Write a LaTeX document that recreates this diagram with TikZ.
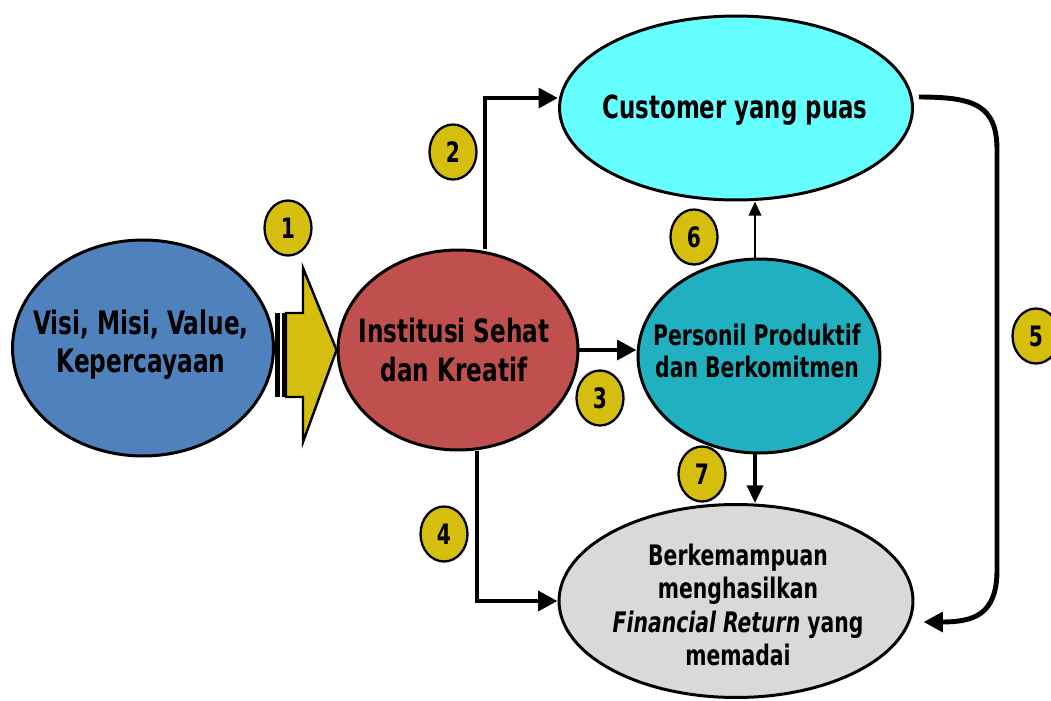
\documentclass[tikz,border=0pt]{standalone}
\usepackage{fontspec}
\setmainfont{DejaVu Sans Condensed}[FakeStretch=0.8]
\usetikzlibrary{arrows.meta,shapes.geometric}

\definecolor{visiblue}{RGB}{79,129,189}
\definecolor{instred}{RGB}{192,80,77}
\definecolor{persteal}{RGB}{33,176,192}
\definecolor{custcyan}{RGB}{102,255,255}
\definecolor{fingray}{RGB}{217,217,217}
\definecolor{badgegold}{RGB}{214,190,14}

\begin{document}
\begin{tikzpicture}[x=0.02cm,y=-0.02cm,
  oval/.style={ellipse, draw=black, line width=1.7pt, inner sep=0pt},
  ovaltext/.style={align=center, inner sep=0pt, font=\bfseries},
  badge/.style={ellipse, draw=black, line width=1.3pt, fill=badgegold,
    minimum width=0.94cm, minimum height=1.1cm, inner sep=0pt,
    font=\bfseries\fontsize{16}{18}\selectfont},
  flow/.style={line width=2.8pt, -{Triangle[length=11pt,width=11pt]}},
  thinflow/.style={line width=1.4pt, -{Triangle[length=8pt,width=7pt]}},
  midflow/.style={line width=1.9pt, -{Triangle[length=10pt,width=9pt]}},
]
\useasboundingbox (0,0) rectangle (1051,700);

% main ovals
\node[oval, fill=visiblue, minimum width=5.22cm, minimum height=4.32cm] (visi) at (143,348) {};
\node[oval, fill=instred,  minimum width=4.8cm,  minimum height=4cm]    (inst) at (458,350) {};
\node[oval, fill=persteal, minimum width=4.84cm, minimum height=3.88cm] (pers) at (759,356) {};
\node[oval, fill=custcyan, minimum width=7.06cm, minimum height=3.68cm] (cust) at (736,108) {};
\node[oval, fill=fingray,  minimum width=7.08cm, minimum height=3.86cm] (fin)  at (736,601) {};

% oval captions
\node[ovaltext, font=\bfseries\fontsize{18.4}{21.5}\selectfont] (visi-t) at (141,345)
  {Visi, Misi, Value,\\Kepercayaan};
\node[ovaltext, font=\bfseries\fontsize{18.3}{22.7}\selectfont] (inst-t) at (454,350)
  {Institusi Sehat\\dan Kreatif};
\node[ovaltext, font=\bfseries\fontsize{16.1}{18.7}\selectfont] (pers-t) at (757,351)
  {Personil Produktif\\dan Berkomitmen};
\node[ovaltext, font=\bfseries\fontsize{18.1}{22}\selectfont] (cust-t) at (735,110)
  {Customer yang puas};
\node[ovaltext, font=\bfseries\fontsize{16.1}{19}\selectfont] (fin-t) at (738,605)
  {Berkemampuan\\menghasilkan\\{\itshape Financial Return} yang\\memadai};

% block arrow from the first oval to the second
\fill[black] (275,313) rectangle (280,397);
\fill[black] (282,313) rectangle (286,397);
\draw[line width=1.4pt, fill=badgegold, line join=miter]
  (286,313) -- (303,313) -- (303,268) -- (inst.west) -- (303,442) -- (303,397) -- (286,397) -- cycle;

% connectors
\draw[flow] ([xshift=0.54cm]inst.north) |- ([yshift=0.2cm]cust.west);
\draw[flow] (inst.east) -- (inst.east -| pers.west);
\draw[flow] ([xshift=0.38cm]inst.south) |- (fin.west);
\draw[thinflow] ([xshift=-0.08cm]pers.north) -- ([xshift=-0.08cm]pers.north |- cust.south);
\draw[midflow] ([xshift=-0.08cm]pers.south) -- ([xshift=-0.08cm]pers.south |- fin.north);
\draw[flow] ([xshift=0.1cm,yshift=0.22cm]cust.east)
  .. controls +(55,0) and +(0,-45) .. (997,150) -- (997,570)
  .. controls +(0,45) and +(50,0) .. ([xshift=0.18cm,yshift=-0.42cm]fin.east);

% numbered badges
\node[badge] (b1) at (288,228) {1};
\node[badge] (b2) at (453,152) {2};
\node[badge] (b3) at (600,398) {3};
\node[badge] (b4) at (444,534) {4};
\node[badge] (b5) at (1036,336) {5};
\node[badge] (b6) at (694,237) {6};
\node[badge] (b7) at (702,474) {7};
\end{tikzpicture}
\end{document}
